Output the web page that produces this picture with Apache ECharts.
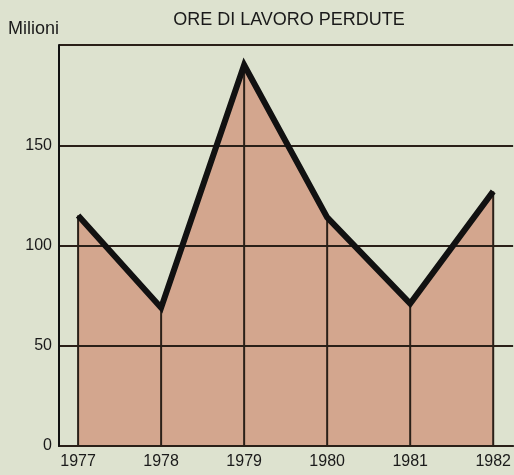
<!DOCTYPE html>
<html>
<head>
<meta charset="utf-8">
<script src="https://cdn.jsdelivr.net/npm/echarts@6/dist/echarts.min.js"></script>
<style>
  html, body { margin: 0; padding: 0; background: #dde2cf; }
  #chart { width: 514px; height: 475px; }
</style>
</head>
<body>
<div id="chart"></div>
<script>
// dati
var anni = [1977, 1978, 1979, 1980, 1981, 1982];
var oreMilioni = [115, 69, 190, 114, 71, 127];
var yTicks = [0, 50, 100, 150];

var punti = [];
for (var i = 0; i < anni.length; i++) {
	punti.push([anni[i], oreMilioni[i]]);
}

var chart = echarts.init(document.getElementById('chart'));
var option = {
	backgroundColor: '#dde2cf',
	animation: false,
	textStyle: { fontFamily: 'Liberation Sans, Arial, sans-serif' },
	graphic: [{
		type: 'text',
		x: 289,
		y: 11,
		style: { text: 'ORE DI LAVORO PERDUTE', align: 'center', fill: '#1a1a1a', font: '18px Liberation Sans' }
	}, {
		type: 'text',
		x: 8,
		y: 20,
		style: { text: 'Milioni', fill: '#1a1a1a', font: '18px Liberation Sans' }
	}],
	grid: { left: 59, top: 45, right: 0, bottom: 29 },
	xAxis: {
		type: 'value',
		min: 1976.77,
		max: 1982.24,
		axisLine: { lineStyle: { color: '#111', width: 2 } },
		axisTick: { show: false },
		splitLine: { show: false },
		axisLabel: {
			customValues: anni,
			fontSize: 16,
			color: '#1a1a1a',
			margin: 8,
			formatter: function(v) { return String(v); }
		}
	},
	yAxis: {
		type: 'value',
		min: 0,
		max: 200,
		interval: 50,
		z: 3,
		axisLine: { show: true, lineStyle: { color: '#111', width: 2 } },
		axisTick: { show: false },
		axisLabel: { customValues: yTicks, fontSize: 16, color: '#1a1a1a', margin: 7 },
		splitLine: { lineStyle: { color: '#2a2018', width: 2 } }
	},
	series: [
		{
			// area riempita
			type: 'line',
			data: punti,
			symbol: 'none',
			z: 2,
			lineStyle: { width: 0 },
			areaStyle: { color: '#d3a68e', opacity: 1 }
		},
		{
			// linee verticali dentro l'area
			type: 'bar',
			data: punti,
			barWidth: 2,
			z: 3,
			itemStyle: { color: '#2a2018' }
		},
		{
			type: 'line',
			data: punti,
			symbol: 'none',
			z: 5,
			lineStyle: { color: '#111', width: 6, join: 'miter' }
		}
	]
};
chart.setOption(option);
</script>
</body>
</html>
